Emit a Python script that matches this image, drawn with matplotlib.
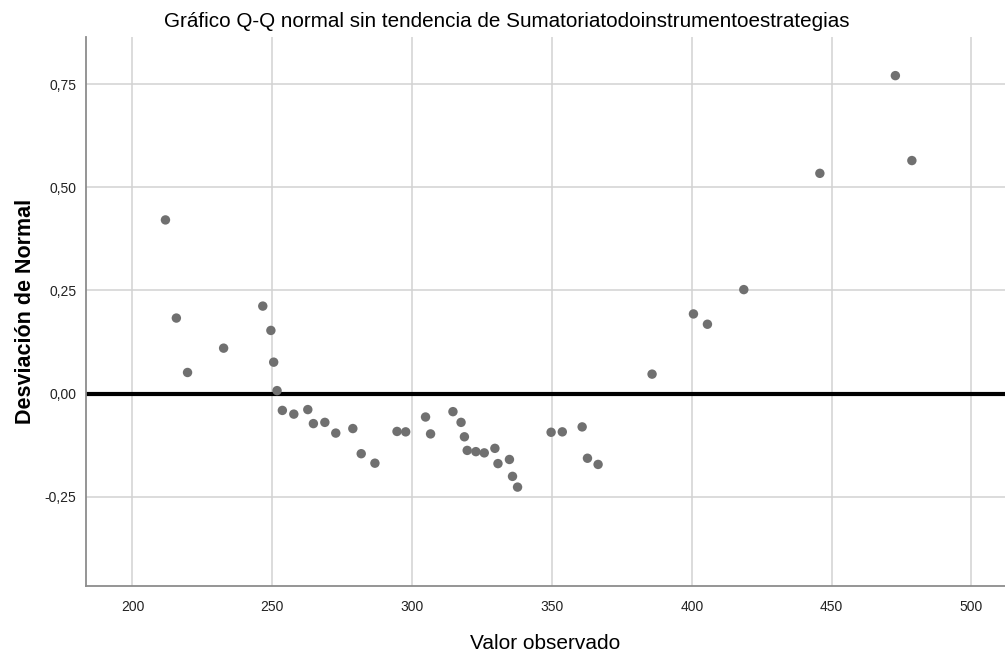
import matplotlib
matplotlib.use('Agg')
import matplotlib.pyplot as plt
from matplotlib.ticker import FuncFormatter

plt.rcParams['font.family'] = ['Liberation Sans', 'DejaVu Sans']

observado = [211.8, 215.7, 219.7, 232.6, 246.6, 249.5, 250.5, 251.7,
             253.6, 257.7, 262.7, 264.7, 268.8, 272.7, 278.8, 281.8, 286.7,
             294.6, 297.7, 304.8, 306.6, 314.6, 317.5, 318.7, 319.7, 322.8,
             325.8, 329.6, 330.7, 334.8, 335.9, 337.7,
             349.7, 353.7, 360.8, 362.7, 366.5, 385.8,
             400.6, 405.6, 418.6, 445.8, 472.8, 478.7]
desviacion = [0.421, 0.183, 0.051, 0.110, 0.212, 0.153, 0.076, 0.007,
              -0.041, -0.050, -0.039, -0.073, -0.070, -0.096, -0.085, -0.146, -0.169,
              -0.092, -0.093, -0.057, -0.098, -0.044, -0.070, -0.105, -0.138, -0.141,
              -0.144, -0.133, -0.170, -0.160, -0.201, -0.227,
              -0.094, -0.093, -0.081, -0.157, -0.172, 0.047,
              0.193, 0.168, 0.252, 0.534, 0.771, 0.565]

xticks = [200, 250, 300, 350, 400, 450, 500]
yticks = [-0.25, 0.0, 0.25, 0.50, 0.75]

fig = plt.figure(figsize=(10.05, 6.56), dpi=100)
ax = fig.add_axes([0.0856, 0.106, 0.9144, 0.8378])

ax.set_xlim(183.4, 512)
ax.set_ylim(-0.468, 0.865)
ax.set_xticks(xticks)
ax.set_yticks(yticks)
ax.yaxis.set_major_formatter(FuncFormatter(lambda v, p: f'{v:.2f}'.replace('.', ',')))
ax.grid(True, color='#d2d2d2', linewidth=1.1)
ax.set_axisbelow(True)

ax.axhline(0, color='black', linewidth=3, zorder=2)
ax.scatter(observado, desviacion, s=46, color='#707070', edgecolors='none', zorder=3)

for s in ['top', 'right']:
    ax.spines[s].set_visible(False)
for s in ['left', 'bottom']:
    ax.spines[s].set_color('#8c8c8c')
    ax.spines[s].set_linewidth(1.3)
ax.tick_params(length=0, labelsize=10, labelcolor='#222222')
ax.tick_params(axis='x', pad=10)
ax.tick_params(axis='y', pad=7)

ax.set_title('Gráfico Q-Q normal sin tendencia de Sumatoriatodoinstrumentoestrategias',
             fontsize=14.9, x=0.458, pad=7)
ax.set_xlabel('Valor observado', fontsize=15, labelpad=14)
ax.set_ylabel('Desviación de Normal', fontsize=15.5, fontweight='bold', labelpad=6)

fig.savefig('out.png', dpi=100)
